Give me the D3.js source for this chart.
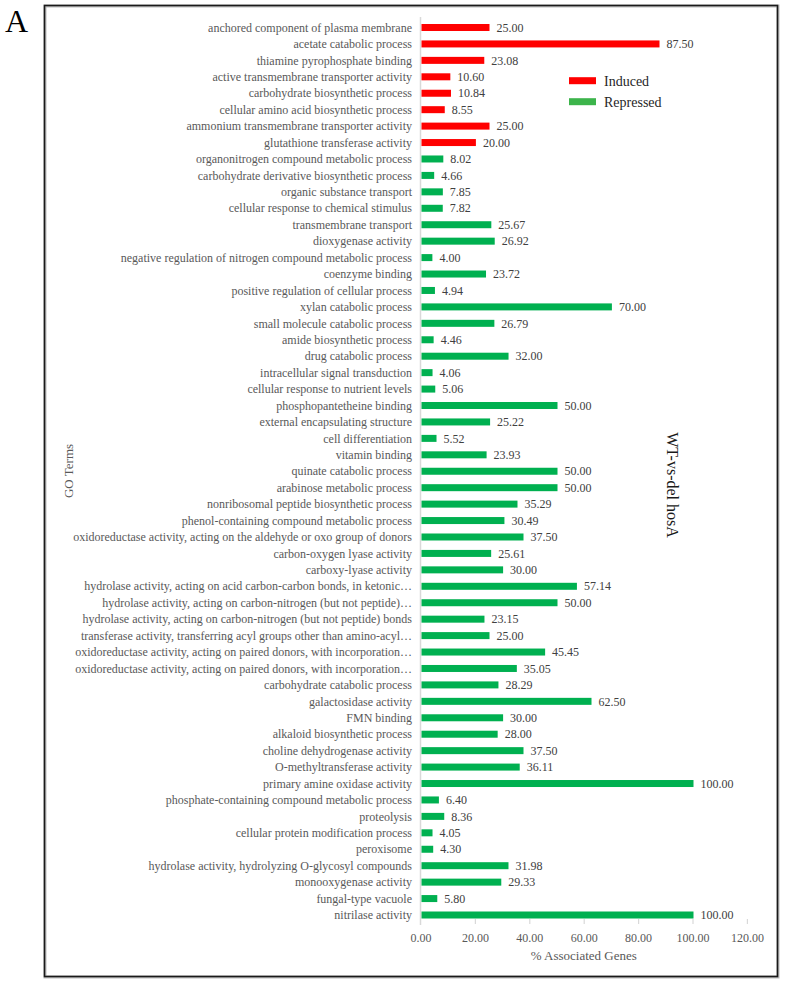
<!DOCTYPE html>
<html>
<head>
<meta charset="utf-8">
<script src="https://cdn.jsdelivr.net/npm/d3@7"></script>
<style>
  html, body { margin: 0; padding: 0; background: #fff; }
  svg { display: block; }
  text { font-family: "Liberation Serif", "Times New Roman", serif; }
</style>
</head>
<body>
<svg id="chart" width="789" height="984"></svg>
<script>
const categories = [
  "anchored component of plasma membrane",
  "acetate catabolic process",
  "thiamine pyrophosphate binding",
  "active transmembrane transporter activity",
  "carbohydrate biosynthetic process",
  "cellular amino acid biosynthetic process",
  "ammonium transmembrane transporter activity",
  "glutathione transferase activity",
  "organonitrogen compound metabolic process",
  "carbohydrate derivative biosynthetic process",
  "organic substance transport",
  "cellular response to chemical stimulus",
  "transmembrane transport",
  "dioxygenase activity",
  "negative regulation of nitrogen compound metabolic process",
  "coenzyme binding",
  "positive regulation of cellular process",
  "xylan catabolic process",
  "small molecule catabolic process",
  "amide biosynthetic process",
  "drug catabolic process",
  "intracellular signal transduction",
  "cellular response to nutrient levels",
  "phosphopantetheine binding",
  "external encapsulating structure",
  "cell differentiation",
  "vitamin binding",
  "quinate catabolic process",
  "arabinose metabolic process",
  "nonribosomal peptide biosynthetic process",
  "phenol-containing compound metabolic process",
  "oxidoreductase activity, acting on the aldehyde or oxo group of donors",
  "carbon-oxygen lyase activity",
  "carboxy-lyase activity",
  "hydrolase activity, acting on acid carbon-carbon bonds, in ketonic\u2026",
  "hydrolase activity, acting on carbon-nitrogen (but not peptide)\u2026",
  "hydrolase activity, acting on carbon-nitrogen (but not peptide) bonds",
  "transferase activity, transferring acyl groups other than amino-acyl\u2026",
  "oxidoreductase activity, acting on paired donors, with incorporation\u2026",
  "oxidoreductase activity, acting on paired donors, with incorporation\u2026 ",
  "carbohydrate catabolic process",
  "galactosidase activity",
  "FMN binding",
  "alkaloid biosynthetic process",
  "choline dehydrogenase activity",
  "O-methyltransferase activity",
  "primary amine oxidase activity",
  "phosphate-containing compound metabolic process",
  "proteolysis",
  "cellular protein modification process",
  "peroxisome",
  "hydrolase activity, hydrolyzing O-glycosyl compounds",
  "monooxygenase activity",
  "fungal-type vacuole",
  "nitrilase activity"
];
const values = [
  25.00, 87.50, 23.08, 10.60, 10.84, 8.55, 25.00, 20.00,
  8.02, 4.66, 7.85, 7.82, 25.67, 26.92, 4.00, 23.72, 4.94, 70.00,
  26.79, 4.46, 32.00, 4.06, 5.06, 50.00, 25.22, 5.52, 23.93, 50.00,
  50.00, 35.29, 30.49, 37.50, 25.61, 30.00, 57.14, 50.00, 23.15, 25.00,
  45.45, 35.05, 28.29, 62.50, 30.00, 28.00, 37.50, 36.11, 100.00, 6.40,
  8.36, 4.05, 4.30, 31.98, 29.33, 5.80, 100.00
];
const groups = [
  "Induced","Induced","Induced","Induced","Induced","Induced","Induced","Induced",
  "Repressed","Repressed","Repressed","Repressed","Repressed","Repressed","Repressed","Repressed","Repressed","Repressed",
  "Repressed","Repressed","Repressed","Repressed","Repressed","Repressed","Repressed","Repressed","Repressed","Repressed",
  "Repressed","Repressed","Repressed","Repressed","Repressed","Repressed","Repressed","Repressed","Repressed","Repressed",
  "Repressed","Repressed","Repressed","Repressed","Repressed","Repressed","Repressed","Repressed","Repressed","Repressed",
  "Repressed","Repressed","Repressed","Repressed","Repressed","Repressed","Repressed"
];
const seriesNames = ["Induced", "Repressed"];
const seriesColors = ["#ff0000", "#00b050"];
const legendColors = ["#ff0000", "#3cb44b"];
const xTicks = [0, 20, 40, 60, 80, 100, 120];

const data = categories.map((c, i) => ({ cat: c, value: values[i], group: groups[i] }));

const svg = d3.select("#chart");

// panel letter
svg.append("text").attr("x", 5).attr("y", 32).attr("font-size", 32).attr("fill", "#000").text("A");

// frame
svg.append("rect").attr("x", 45).attr("y", 6).attr("width", 733).attr("height", 971)
  .attr("fill", "none").attr("stroke", "#bdbdbd").attr("stroke-width", 3);
svg.append("rect").attr("x", 44.5).attr("y", 5.5).attr("width", 733).attr("height", 971)
  .attr("fill", "none").attr("stroke", "#1a1a1a").attr("stroke-width", 1.6);

const x = d3.scaleLinear().domain([0, 120]).range([420.5, 746.9]);
const y = d3.scalePoint().domain(categories).range([27.5, 915]);
const color = d3.scaleOrdinal().domain(seriesNames).range(seriesColors);
const barH = 7;

// value axis line (vertical at 0)
svg.append("line").attr("x1", x(0)).attr("x2", x(0)).attr("y1", 17).attr("y2", 925)
  .attr("stroke", "#d9d9d9").attr("stroke-width", 1.5);

// bottom ticks + labels via d3 axis
const xAxis = d3.axisBottom(x).tickValues(xTicks).tickFormat(d3.format(".2f")).tickSize(5).tickPadding(9);
const gx = svg.append("g").attr("transform", "translate(0,919)").call(xAxis);
gx.select(".domain").remove();
gx.selectAll(".tick line").attr("stroke", "#d9d9d9").attr("stroke-width", 1.2)
  .filter(d => d === 0).remove();
gx.selectAll(".tick text").attr("font-size", 12).attr("fill", "#595959")
  .attr("font-family", "'Liberation Serif', 'Times New Roman', serif");

// category labels
svg.append("g").selectAll("text").data(data).join("text")
  .attr("x", 412).attr("y", d => y(d.cat)).attr("dy", "0.35em")
  .attr("text-anchor", "end").attr("font-size", 12).attr("fill", "#595959")
  .text(d => d.cat.trim());

// bars
svg.append("g").selectAll("rect").data(data).join("rect")
  .attr("x", x(0) + 1).attr("y", d => y(d.cat) - barH / 2)
  .attr("width", d => x(d.value) - x(0)).attr("height", barH)
  .attr("fill", d => color(d.group));

// value labels
svg.append("g").selectAll("text").data(data).join("text")
  .attr("x", d => x(d.value) + 8).attr("y", d => y(d.cat)).attr("dy", "0.35em")
  .attr("font-size", 12).attr("fill", "#404040")
  .text(d => d3.format(".2f")(d.value));

// axis titles
svg.append("text").attr("x", (x(0) + x(120)) / 2).attr("y", 960).attr("text-anchor", "middle")
  .attr("font-size", 13).attr("fill", "#595959").text("% Associated Genes");
svg.append("text").attr("transform", "translate(73,471) rotate(-90)").attr("text-anchor", "middle")
  .attr("font-size", 13).attr("fill", "#595959").text("GO Terms");
svg.append("text").attr("transform", "translate(667,485) rotate(90)").attr("text-anchor", "middle")
  .attr("font-size", 16).attr("fill", "#1a1a1a").text("WT-vs-del hosA");

// legend
const lg = svg.append("g");
seriesNames.forEach((s, i) => {
  const cy = 80.7 + i * 21;
  lg.append("rect").attr("x", 569).attr("y", cy - 3.5).attr("width", 27).attr("height", 7)
    .attr("fill", legendColors[i]);
  lg.append("text").attr("x", 604).attr("y", cy).attr("dy", "0.35em")
    .attr("font-size", 14).attr("fill", "#262626").text(s);
});
</script>
</body>
</html>
